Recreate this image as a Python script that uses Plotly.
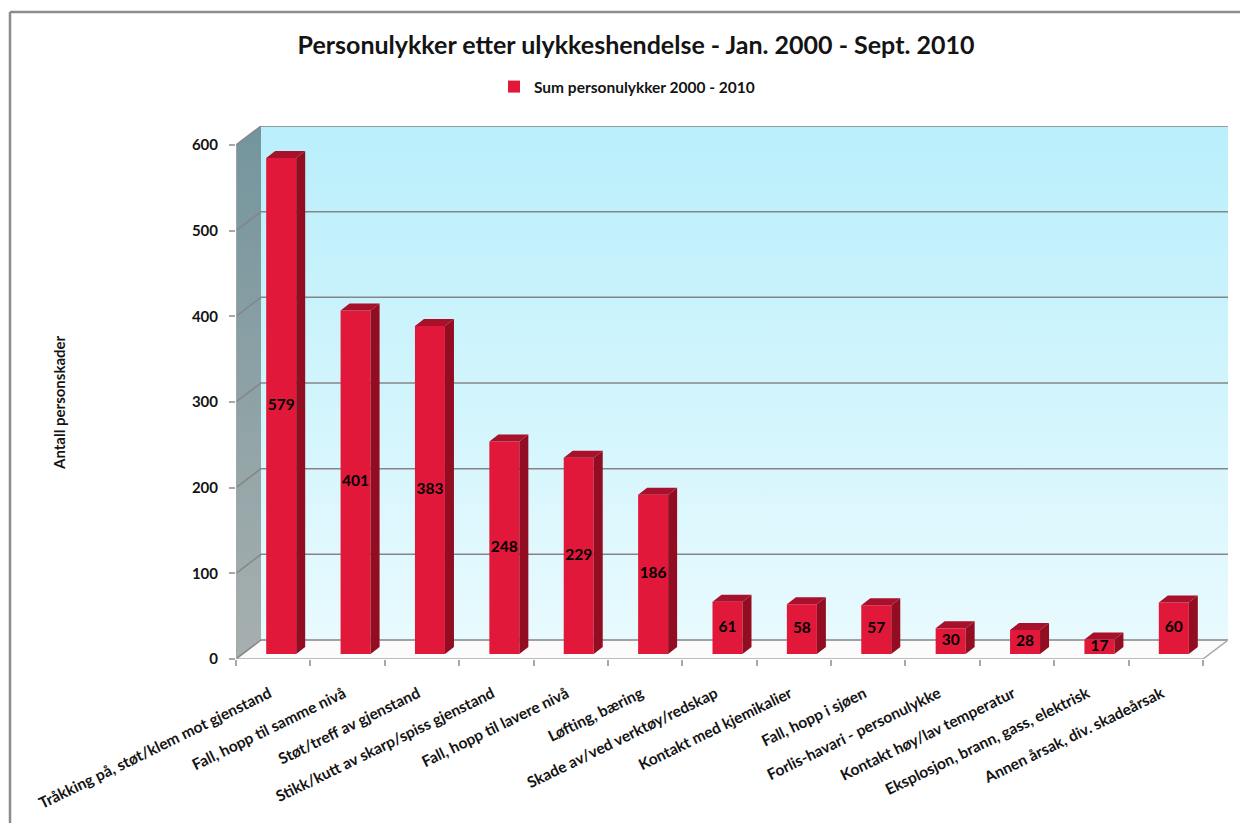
import plotly.graph_objects as go

# ---------------- data ----------------
categories = [
    "Tråkking på, støt/klem mot gjenstand",
    "Fall, hopp til samme nivå",
    "Støt/treff av gjenstand",
    "Stikk/kutt av skarp/spiss gjenstand",
    "Fall, hopp til lavere nivå",
    "Løfting, bæring",
    "Skade av/ved verktøy/redskap",
    "Kontakt med kjemikalier",
    "Fall, hopp i sjøen",
    "Forlis-havari - personulykke",
    "Kontakt høy/lav temperatur",
    "Eksplosjon, brann, gass, elektrisk",
    "Annen årsak, div. skadeårsak",
]
values = [579, 401, 383, 248, 229, 186, 61, 58, 57, 30, 28, 17, 60]
y_ticks = [0, 100, 200, 300, 400, 500, 600]
series_name = "Sum personulykker 2000 - 2010"
title_text = "Personulykker etter ulykkeshendelse - Jan. 2000 - Sept. 2010"
y_title = "Antall personskader"

# ---------------- geometry (page pixels) ----------------
OFF = 8                       # default body margin of the html page
PAGE_W, PAGE_H = 1248, 823
W, H = PAGE_W - OFF, PAGE_H - OFF
PL, PR, PB, PT = 236 - OFF, 1203 - OFF, 659 - OFF, 145 - OFF   # front axis box (figure px)
DXP, DYP = 25, 19                          # depth of 3D box
n = len(categories)
ux = (PR - PL) / n
ymax = y_ticks[-1]
uy = (PB - PT) / ymax
DX, DY = DXP / ux, DYP / uy
x0, x1 = -0.5, n - 0.5
plot_w = (PR + DXP) - PL
plot_h = PB - (PT - DYP)

BW = 30 / ux          # bar front width
BSX = 8 / ux          # bar shift to right (depth position)
BB = 5 / uy           # bar base lift
SDX, SDY = 9 / ux, 7 / uy   # bar side depth
LBL_SHIFT = 4 / ux    # category label anchor correction

RED = "#e2183a"
RED_SIDE = "#920d21"
RED_TOP = "#a8112b"
GRID = "#858585"
AXIS = "#a8a8a8"
FONT = "Lato"
TXT = "#141414"

fig = go.Figure()

# ---- back wall (gradient) ----
fig.add_trace(go.Scatter(
    x=[x0 + DX, x1 + DX, x1 + DX, x0 + DX, x0 + DX],
    y=[DY, DY, ymax + DY, ymax + DY, DY],
    mode="lines", line=dict(width=0), fill="toself",
    fillgradient=dict(type="vertical", start=DY, stop=ymax + DY,
                      colorscale=[[0, "#e8fafe"], [1, "#b9effb"]]),
    hoverinfo="skip", showlegend=False, xaxis="x", yaxis="y"))
# ---- left wall (gradient) ----
fig.add_trace(go.Scatter(
    x=[x0, x0 + DX, x0 + DX, x0, x0],
    y=[0, DY, ymax + DY, ymax, 0],
    mode="lines", line=dict(width=0), fill="toself",
    fillgradient=dict(type="vertical", start=0, stop=ymax + DY,
                      colorscale=[[0, "#a7afaf"], [1, "#74959d"]]),
    hoverinfo="skip", showlegend=False, xaxis="x", yaxis="y"))
# ---- floor ----
fig.add_trace(go.Scatter(
    x=[x0, x1, x1 + DX, x0 + DX, x0],
    y=[0, 0, DY, DY, 0],
    mode="lines", line=dict(width=0), fill="toself", fillcolor="#fbfbfb",
    hoverinfo="skip", showlegend=False, xaxis="x", yaxis="y"))

# ---- gridlines ----
gx, gy = [], []
for v in y_ticks:
    gx += [x0, x0 + DX, x1 + DX, None]
    gy += [v, v + DY, v + DY, None]
fig.add_trace(go.Scatter(x=gx, y=gy, mode="lines",
                         line=dict(color=GRID, width=1.5),
                         hoverinfo="skip", showlegend=False, cliponaxis=False,
                         xaxis="x", yaxis="y"))
# ---- front axis lines ----
fig.add_trace(go.Scatter(
    x=[x0, x0, x1, x1 + DX], y=[ymax, 0, 0, DY], mode="lines",
    line=dict(color=AXIS, width=1.5), hoverinfo="skip", showlegend=False,
    cliponaxis=False, xaxis="x", yaxis="y"))

# ---- bars (front faces) on overlay subplot ----
idx = list(range(n))
fig.add_trace(go.Bar(
    x=idx, y=values, base=BB, width=BW, offset=-BW / 2 + BSX,
    marker=dict(color=RED, line=dict(width=0)),
    name=series_name, showlegend=True, hoverinfo="skip",
    xaxis="x2", yaxis="y2"))

# ---- bar side and top faces ----
sx, sy, tx, ty = [], [], [], []
for i, v in zip(idx, values):
    l = i - BW / 2 + BSX
    r = i + BW / 2 + BSX
    top = BB + v
    sx += [r, r + SDX, r + SDX, r, r, None]
    sy += [BB, BB + SDY, top + SDY, top, BB, None]
    tx += [l, r, r + SDX, l + SDX, l, None]
    ty += [top, top, top + SDY, top + SDY, top, None]
fig.add_trace(go.Scatter(x=sx, y=sy, mode="lines", line=dict(width=0),
                         fill="toself", fillcolor=RED_SIDE, hoverinfo="skip",
                         showlegend=False, xaxis="x2", yaxis="y2"))
fig.add_trace(go.Scatter(x=tx, y=ty, mode="lines", line=dict(width=0),
                         fill="toself", fillcolor=RED_TOP, hoverinfo="skip",
                         showlegend=False, xaxis="x2", yaxis="y2"))

# ---- value labels ----
fig.add_trace(go.Scatter(
    x=[i + BSX for i in idx], y=[BB + v / 2 for v in values],
    mode="text", text=[str(v) for v in values],
    textfont=dict(family=FONT, size=15.5, color="#000000", weight="bold"),
    hoverinfo="skip", showlegend=False, cliponaxis=False,
    xaxis="x2", yaxis="y2"))

# ---- layout ----
xrange = [x0, x1 + DX]
yrange = [0, ymax + DY]
bounds = [b - 0.5 for b in range(n + 1)]


def px_x(p):  # page px -> paper
    return (p - OFF - PL) / plot_w


def px_y(p):
    return (PB - (p - OFF)) / plot_h


fig.update_layout(
    width=W, height=H, autosize=False,
    margin=dict(l=PL, r=W - (PR + DXP), t=PT - DYP, b=H - PB, pad=0,
                autoexpand=False),
    paper_bgcolor="white", plot_bgcolor="white",
    font=dict(family=FONT, color=TXT),
    title=dict(text=title_text, x=(636 - OFF) / W, xanchor="center",
               y=1 - (45 - OFF) / H, yanchor="middle",
               font=dict(family=FONT, size=25, color=TXT, weight="bold")),
    showlegend=True,
    legend=dict(orientation="h", xref="container", yref="container",
                x=(494 - OFF) / W, xanchor="left", y=1 - (87 - OFF) / H,
                yanchor="middle",
                font=dict(family=FONT, size=15.5, color=TXT, weight="bold"),
                bgcolor="rgba(0,0,0,0)"),
    xaxis=dict(range=xrange, tickmode="array", automargin=False,
               tickvals=[i - LBL_SHIFT for i in idx], ticktext=categories,
               tickangle=-26, ticks="", showgrid=False, zeroline=False,
               showline=False,
               tickfont=dict(family=FONT, size=15.5, color=TXT, weight="bold"),
               ticklabelstandoff=22,
               minor=dict(tickmode="array", tickvals=bounds, ticks="outside",
                          ticklen=6, tickwidth=1.5, tickcolor=AXIS, showgrid=False),
               fixedrange=True),
    yaxis=dict(range=yrange, tickmode="array", tickvals=y_ticks, automargin=False,
               ticks="outside", ticklen=6, tickwidth=1.5, tickcolor=AXIS,
               showgrid=False, zeroline=False, showline=False,
               tickfont=dict(family=FONT, size=15, color=TXT, weight="bold"),
               ticklabelstandoff=8, fixedrange=True),
    xaxis2=dict(range=xrange, overlaying="x", visible=False, fixedrange=True),
    yaxis2=dict(range=yrange, overlaying="y", visible=False, fixedrange=True),
    annotations=[dict(text=y_title, xref="paper", yref="paper",
                      x=px_x(59), y=px_y(403), xanchor="center", yanchor="middle",
                      textangle=-90, showarrow=False,
                      font=dict(family=FONT, size=15, color=TXT, weight="bold"))],
    shapes=[
        dict(type="line", xref="paper", yref="paper", x0=px_x(10), x1=px_x(10),
             y0=px_y(PAGE_H + 5), y1=px_y(12), line=dict(color="#8c8c8c", width=2.5)),
        dict(type="line", xref="paper", yref="paper", x0=px_x(10), x1=px_x(PAGE_W + 5),
             y0=px_y(12), y1=px_y(12), line=dict(color="#8c8c8c", width=2.5)),
    ],
)

fig.write_html("out.html")
